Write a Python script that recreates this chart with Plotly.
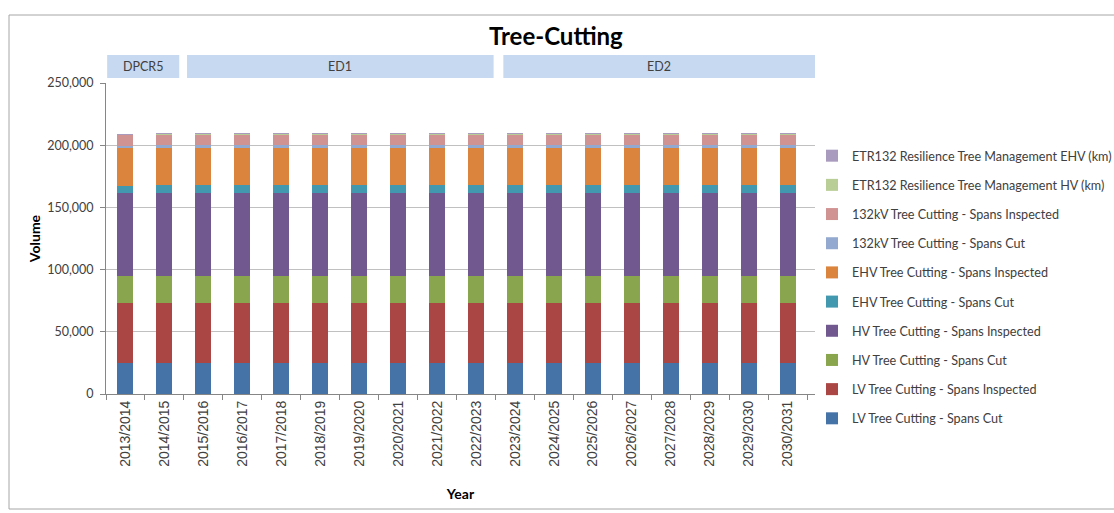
import plotly.graph_objects as go

years = ["2013/2014", "2014/2015", "2015/2016", "2016/2017", "2017/2018", "2018/2019",
         "2019/2020", "2020/2021", "2021/2022", "2022/2023", "2023/2024", "2024/2025",
         "2025/2026", "2026/2027", "2027/2028", "2028/2029", "2029/2030", "2030/2031"]

lv_cut = [24700, 24700, 24700, 24700, 24700, 24700, 24700, 24700, 24700,
          24700, 24700, 24700, 24700, 24700, 24700, 24700, 24700, 24700]
lv_inspected = [48200, 48200, 48200, 48200, 48200, 48200, 48200, 48200, 48200,
                48200, 48200, 48200, 48200, 48200, 48200, 48200, 48200, 48200]
hv_cut = [21900, 22000, 22000, 22000, 22000, 22000, 22000, 22000, 22000,
          22000, 22000, 22000, 22000, 22000, 22000, 22000, 22000, 22000]
hv_inspected = [66500, 66700, 66700, 66700, 66700, 66700, 66700, 66700, 66700,
                66700, 66700, 66700, 66700, 66700, 66700, 66700, 66700, 66700]
ehv_cut = [6200, 6200, 6200, 6200, 6200, 6200, 6200, 6200, 6200,
           6200, 6200, 6200, 6200, 6200, 6200, 6200, 6200, 6200]
ehv_inspected = [30500, 30500, 30500, 30500, 30500, 30500, 30500, 30500, 30500,
                 30500, 30500, 30500, 30500, 30500, 30500, 30500, 30500, 30500]
kv132_cut = [1600, 1600, 1600, 1600, 1600, 1600, 1600, 1600, 1600,
             1600, 1600, 1600, 1600, 1600, 1600, 1600, 1600, 1600]
kv132_inspected = [8800, 8800, 8800, 8800, 8800, 8800, 8800, 8800, 8800,
                   8800, 8800, 8800, 8800, 8800, 8800, 8800, 8800, 8800]
etr_hv = [300, 300, 300, 300, 300, 300, 300, 300, 300,
          300, 300, 300, 300, 300, 300, 300, 300, 300]
etr_ehv = [250, 250, 250, 250, 250, 250, 250, 250, 250,
           250, 250, 250, 250, 250, 250, 250, 250, 250]

series = [
    ("LV Tree Cutting - Spans Cut", lv_cut, "#4572A7"),
    ("LV Tree Cutting - Spans Inspected", lv_inspected, "#AA4643"),
    ("HV Tree Cutting - Spans Cut", hv_cut, "#89A54E"),
    ("HV Tree Cutting - Spans Inspected", hv_inspected, "#71588F"),
    ("EHV Tree Cutting - Spans Cut", ehv_cut, "#4198AF"),
    ("EHV Tree Cutting - Spans Inspected", ehv_inspected, "#DB843D"),
    ("132kV Tree Cutting - Spans Cut", kv132_cut, "#93A9CF"),
    ("132kV Tree Cutting - Spans Inspected", kv132_inspected, "#D19392"),
    ("ETR132 Resilience Tree Management HV (km)", etr_hv, "#B9CD96"),
    ("ETR132 Resilience Tree Management EHV (km)", etr_ehv, "#A99BBD"),
]

periods = [("DPCR5", -0.47, 1.38), ("ED1", 1.58, 9.45), ("ED2", 9.70, 17.70)]

FONT = "Lato"
TXT = "#404040"

fig = go.Figure()
n = len(series)
for i, (name, vals, col) in enumerate(series):
    # top of the stack is listed first in the legend
    fig.add_trace(go.Bar(x=years, y=vals, name=name, legendgroup=name,
                         legendrank=n - i,
                         marker=dict(color=col, line=dict(width=0))))

shapes = [
    # outer chart frame
    dict(type="rect", xref="paper", yref="paper",
         x0=(9 - 106) / 709, x1=(1125 - 106) / 709,
         y0=(394 - 509) / 311, y1=(394 - 15) / 311,
         line=dict(color="#a6a6a6", width=1), fillcolor="rgba(0,0,0,0)", layer="below"),
]
annotations = []
for label, a, b in periods:
    shapes.append(dict(type="rect", xref="x", yref="paper", x0=a, x1=b,
                       y0=(394 - 78) / 311, y1=(394 - 55) / 311,
                       fillcolor="#C6D9F1", line=dict(width=0), layer="above"))
    annotations.append(dict(x=(a + b) / 2, y=(394 - 66.5) / 311, xref="x", yref="paper",
                            xanchor="center", yanchor="middle",
                            text=label, showarrow=False,
                            font=dict(family=FONT, size=12.5, color=TXT)))

fig.update_layout(
    width=1114, height=513,
    barmode="stack", bargap=0.59,
    paper_bgcolor="white", plot_bgcolor="white",
    margin=dict(l=106, r=299, t=83, b=119, autoexpand=False),
    title=dict(text="<b>Tree-Cutting</b>", x=0.499, xanchor="center",
               y=1 - 37 / 513, yanchor="middle", yref="container",
               font=dict(family=FONT, size=24, color="#000000")),
    font=dict(family=FONT, size=12, color=TXT),
    legend=dict(traceorder="grouped", x=(812 - 106) / 709, xanchor="left",
                y=(394 - 141) / 311, yanchor="top", tracegroupgap=9.8,
                font=dict(family=FONT, size=12.6, color=TXT),
                bgcolor="rgba(0,0,0,0)"),
    shapes=shapes,
    annotations=annotations,
)

fig.update_xaxes(
    type="category", tickangle=-90, tickson="boundaries",
    ticks="outside", ticklen=5, tickcolor="#868686",
    showline=True, linecolor="#868686", linewidth=1,
    showgrid=False,
    tickfont=dict(family="Liberation Sans", size=14, color=TXT),
    title=dict(text="<b>Year</b>", standoff=23,
               font=dict(family=FONT, size=14, color="#000000")),
)
fig.update_yaxes(
    range=[0, 250000], dtick=50000, tickformat=",",
    ticks="outside", ticklen=5, tickcolor="#868686",
    showline=True, linecolor="#868686", linewidth=1,
    showgrid=True, gridcolor="#c0c0c0", gridwidth=1,
    zeroline=False, ticklabelstandoff=4,
    tickfont=dict(family=FONT, size=12.5, color=TXT),
    title=dict(text="<b>Volume</b>", standoff=3,
               font=dict(family=FONT, size=14, color="#000000")),
)

fig.write_html("out.html")
